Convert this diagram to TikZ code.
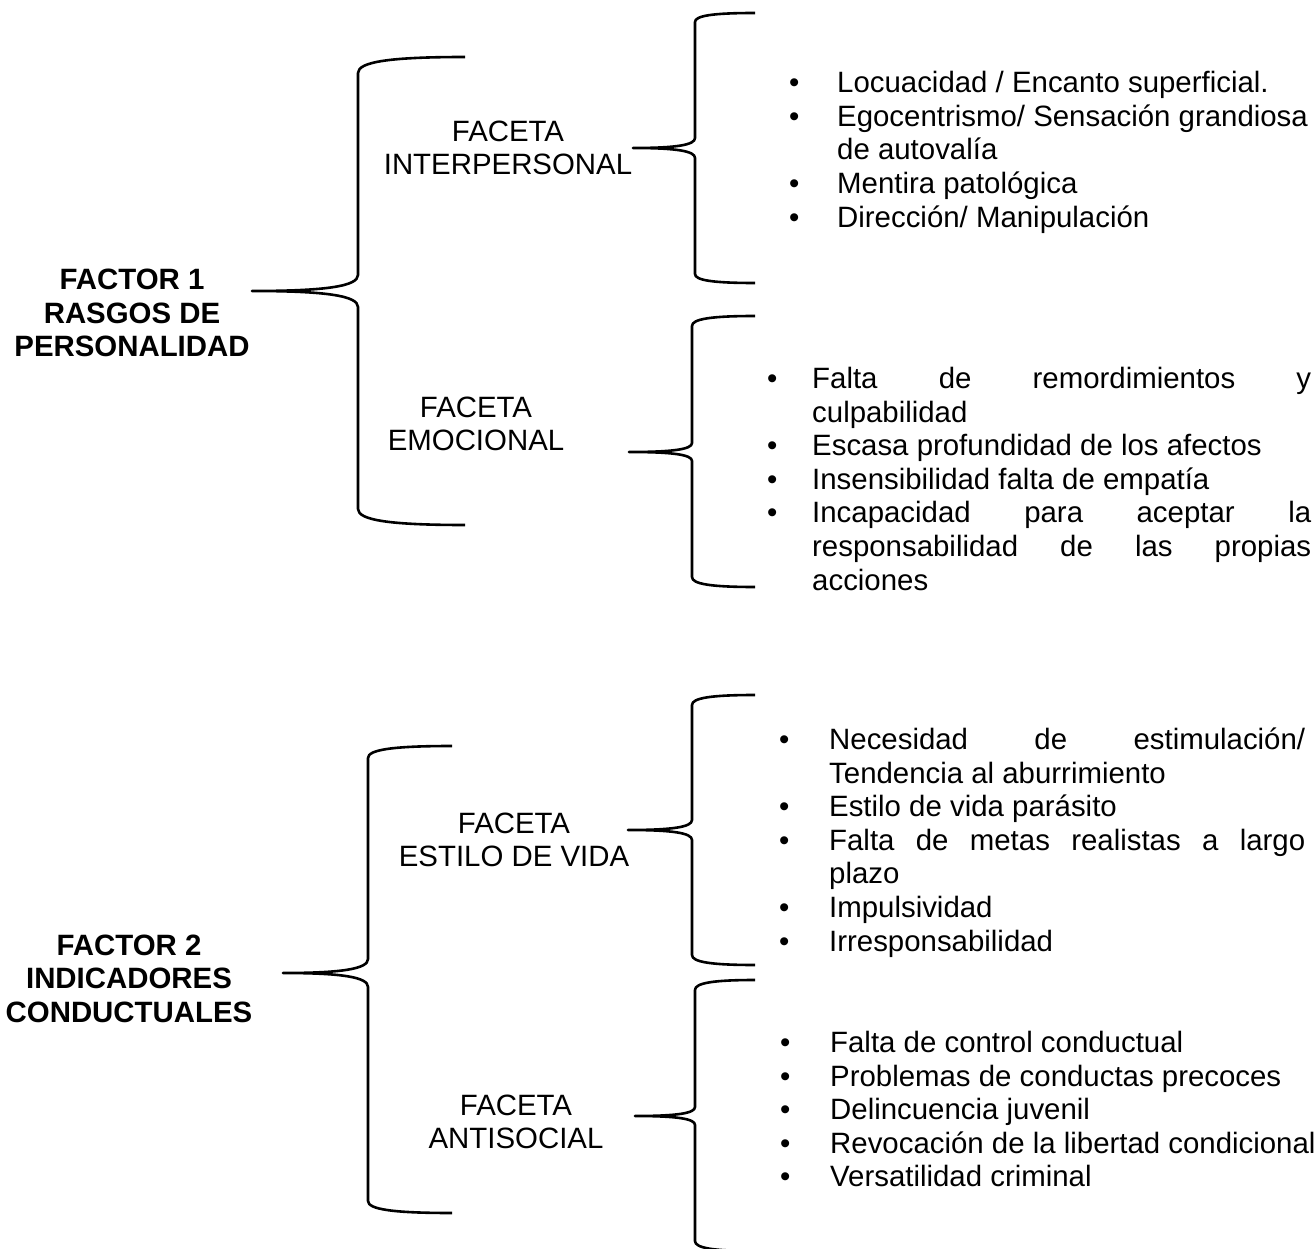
\documentclass[tikz,border=0pt]{standalone}
\usepackage{fontspec}
\setmainfont{Liberation Sans}
\usepackage{tikz}
\newlength{\bgap}
\newcommand{\bigsize}{\fontsize{29.4}{33.6}\selectfont}
\newcommand{\itm}{\makebox[\bgap][l]{•}}
\newcommand{\contline}{\hspace*{\bgap}}
\newcommand{\drawbrace}[8]{%
  \draw[curlyline] (#1,#4) .. controls ({#2+0.3*(#1-#2)},#4) and (#2,{#4+0.3*#7}) .. (#2,{#4+#7})
    -- (#2,{#5-#8}) .. controls (#2,{#5-0.3*#8}) and ({#3+0.7*(#2-#3)},#5) .. (#3,#5)
    .. controls ({#3+0.7*(#2-#3)},#5) and (#2,{#5+0.3*#8}) .. (#2,{#5+#8})
    -- (#2,{#6-#7}) .. controls (#2,{#6-0.3*#7}) and ({#2+0.3*(#1-#2)},#6) .. (#1,#6);}
\tikzset{
  curlyline/.style={line width=2.6pt, line join=round},
  factor/.style={font=\bigsize\bfseries, anchor=base, inner sep=0pt},
  facet/.style={font=\bigsize, anchor=base, inner sep=0pt},
  itemline/.style={font=\bigsize, anchor=base west, inner sep=0pt},
}

\begin{document}
\begin{tikzpicture}[x=1pt, y=-1pt]
    \useasboundingbox (0,0) rectangle (1315,1249);
        \drawbrace{465}{358}{252}{57}{291}{525}{16}{16}
        \drawbrace{755}{695}{633}{13}{148}{283}{9}{10}
        \drawbrace{755}{692}{629}{316}{452}{587}{10}{9}
        \drawbrace{452}{368}{283}{746}{973}{1213}{12}{14}
        \drawbrace{755}{692}{628}{695}{830}{965}{10}{10}
        \drawbrace{755}{695}{635}{980}{1116}{1251}{10}{9}
        \foreach \t [count=\i] in {FACTOR 1, RASGOS DE, PERSONALIDAD}{
            \node[factor] (fone\i) at (132,{290+33.5*(\i-1)}) {\t};
        }
        \foreach \t [count=\i] in {FACTOR 2, INDICADORES, CONDUCTUALES}{
            \node[factor] (ftwo\i) at (129,{955+33.5*(\i-1)}) {\t};
        }
        \node[facet] (fint1) at (508,142) {FACETA};
        \node[facet] (fint2) at (508,175) {INTERPERSONAL};
        \node[facet] (femo1) at (476,417) {FACETA};
        \node[facet] (femo2) at (476,450) {EMOCIONAL};
        \node[facet] (fest1) at (514,833) {FACETA};
        \node[facet] (fest2) at (514,866) {ESTILO DE VIDA};
        \node[facet] (fant1) at (516,1115) {FACETA};
        \node[facet] (fant2) at (516,1148) {ANTISOCIAL};
        \setlength{\bgap}{48pt}
        \foreach \t [count=\i] in {\itm Locuacidad / Encanto superficial.,
            \itm Egocentrismo/ Sensación grandiosa,
            \contline de autovalía,
            \itm Mentira patológica,
            \itm Dirección/ Manipulación}{
            \node[itemline] (int\i) at (789,{92.7+33.6*(\i-1)}) {\t};
        }
        \setlength{\bgap}{45pt}
        \foreach \t [count=\i] in {\itm\makebox[499pt][s]{Falta de remordimientos y},
            \contline culpabilidad,
            \itm Escasa profundidad de los afectos,
            \itm Insensibilidad falta de empatía,
            \itm\makebox[499pt][s]{Incapacidad para aceptar la},
            \contline\makebox[499pt][s]{responsabilidad de las propias},
            \contline acciones}{
            \node[itemline] (emo\i) at (767,{388.5+33.6*(\i-1)}) {\t};
        }
        \setlength{\bgap}{50pt}
        \foreach \t [count=\i] in {\itm\makebox[476pt][s]{Necesidad de estimulación/},
            \contline Tendencia al aburrimiento,
            \itm Estilo de vida parásito,
            \itm\makebox[476pt][s]{Falta de metas realistas a largo},
            \contline plazo,
            \itm Impulsividad,
            \itm Irresponsabilidad}{
            \node[itemline] (est\i) at (779,{749.5+33.6*(\i-1)}) {\t};
        }
        \foreach \t [count=\i] in {\itm Falta de control conductual,
            \itm Problemas de conductas precoces,
            \itm Delincuencia juvenil,
            \itm Revocación de la libertad condicional,
            \itm Versatilidad criminal}{
            \node[itemline] (ant\i) at (780,{1052.5+33.6*(\i-1)}) {\t};
        }
\end{tikzpicture}
\end{document}
